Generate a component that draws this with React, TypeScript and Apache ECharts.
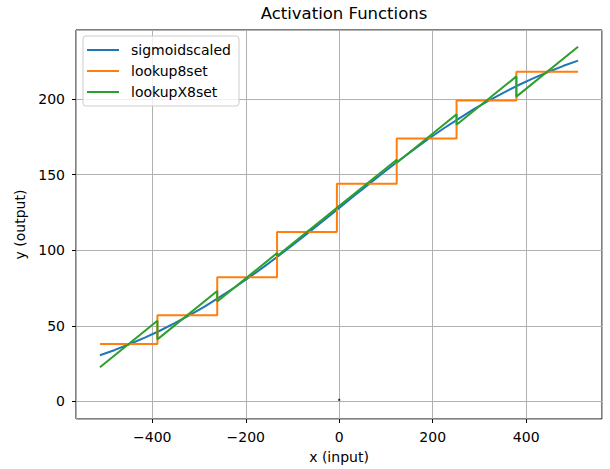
import React, { useEffect, useRef } from "react";
import * as echarts from "echarts";

const TITLE = "Activation Functions";
const X_LABEL = "x (input)";
const Y_LABEL = "y (output)";
const SERIES_NAMES = ["sigmoidscaled", "lookup8set", "lookupX8set"];
const COLORS = ["#1f77b4", "#ff7f0e", "#2ca02c"];

// sigmoidscaled: smooth curve, read at x steps
const sigX = [-512, -480, -448, -416, -384, -352, -320, -288, -256, -224, -192, -160, -128, -96, -64, -32, 0, 32, 64, 96, 128, 160, 192, 224, 256, 288, 320, 352, 384, 416, 448, 480, 511];
const sigY = [30.5, 34.0, 37.9, 42.1, 46.7, 51.7, 57.0, 62.7, 68.9, 75.3, 82.1, 89.3, 96.7, 104.3, 112.1, 120.0, 128, 136.0, 143.9, 151.7, 159.3, 166.7, 173.9, 180.7, 187.1, 193.3, 199.0, 204.3, 209.3, 213.9, 218.1, 222.0, 225.4];

// lookup8set: step boundaries and levels
const stepEdges = [-512, -389, -261, -133, -5, 123, 251, 379, 511];
const stepLevels = [37.9, 57.0, 82.1, 112.1, 143.9, 173.9, 199.0, 218.1];

// lookupX8set: per segment start / end values (same edges)
const segStart = [22.5, 41.0, 66.1, 96.1, 127.9, 157.9, 183.0, 201.6];
const segEnd = [53.3, 73.0, 98.1, 128.1, 159.9, 189.9, 215.0, 234.6];

// stray point
const dotX = [0];
const dotY = [1];

const X_MIN = -563.2;
const X_MAX = 562.2;
const Y_MIN = -11.7;
const Y_MAX = 245.7;

const FONT = "DejaVu Sans";

function fmt(v: number): string {
  const r = Math.round(v);
  return r < 0 ? "\u2212" + Math.abs(r) : String(r);
}

export default function App() {
  const ref = useRef<HTMLDivElement>(null);
  useEffect(() => {
    if (!ref.current) return;
    const chart = echarts.init(ref.current, null, { renderer: "svg" });

    const sigData = sigX.map((x, i) => [x, sigY[i]]);
    const stepData: number[][] = [];
    const sawData: number[][] = [];
    for (let i = 0; i < stepLevels.length; i++) {
      stepData.push([stepEdges[i], stepLevels[i]]);
      stepData.push([stepEdges[i + 1], stepLevels[i]]);
      sawData.push([stepEdges[i], segStart[i]]);
      sawData.push([stepEdges[i + 1], segEnd[i]]);
    }
    const dotData = dotX.map((x, i) => [x, dotY[i]]);

    const lineSeries = (name: string, data: number[][], color: string) => ({
      name,
      type: "line",
      data,
      symbol: "none",
      showSymbol: false,
      lineStyle: { color, width: 2 },
      itemStyle: { color },
      animation: false,
    });

    chart.setOption({
      animation: false,
      backgroundColor: "#ffffff",
      title: {
        text: TITLE,
        left: 339,
        textAlign: "center",
        top: 0,
        textStyle: { fontFamily: FONT, fontSize: 16.5, fontWeight: "normal", color: "#000" },
      },
      legend: {
        orient: "vertical",
        left: 83,
        top: 36,
        data: SERIES_NAMES,
        icon: "rect",
        itemWidth: 32,
        itemHeight: 2,
        itemGap: 5,
        padding: [6, 8, 6, 4],
        backgroundColor: "rgba(255,255,255,0.8)",
        borderColor: "#cccccc",
        borderWidth: 1,
        borderRadius: 3,
        textStyle: { fontFamily: FONT, fontSize: 14, color: "#000", padding: [0, 0, 0, 7], lineHeight: 16 },
      },
      grid: {
        left: 76,
        right: 8,
        top: 30,
        bottom: 47,
        show: true,
        borderColor: "#000",
        borderWidth: 1,
        backgroundColor: "transparent",
      },
      xAxis: {
        type: "value",
        min: X_MIN,
        max: X_MAX,
        splitNumber: 5,
        name: X_LABEL,
        nameLocation: "middle",
        nameGap: 31,
        nameTextStyle: { fontFamily: FONT, fontSize: 14, color: "#000" },
        axisLine: { show: false, onZero: false },
        axisTick: { show: true, length: 4, lineStyle: { color: "#000" } },
        axisLabel: {
          margin: 11,
          fontFamily: FONT,
          fontSize: 14,
          color: "#000",
          showMinLabel: false,
          showMaxLabel: false,
          formatter: (v: number) => (Math.abs(v % 200) < 1e-6 ? fmt(v) : ""),
        },
        splitLine: { show: true, lineStyle: { color: "#b0b0b0", width: 1 } },
      },
      yAxis: {
        type: "value",
        min: Y_MIN,
        max: Y_MAX,
        splitNumber: 5,
        name: Y_LABEL,
        nameLocation: "middle",
        nameGap: 49,
        nameTextStyle: { fontFamily: FONT, fontSize: 14, color: "#000" },
        axisLine: { show: false, onZero: false },
        axisTick: { show: true, length: 4, lineStyle: { color: "#000" } },
        axisLabel: {
          margin: 11,
          fontFamily: FONT,
          fontSize: 14,
          color: "#000",
          showMinLabel: false,
          showMaxLabel: false,
          formatter: (v: number) => (Math.abs(v % 50) < 1e-6 ? fmt(v) : ""),
        },
        splitLine: { show: true, lineStyle: { color: "#b0b0b0", width: 1 } },
      },
      series: [
        lineSeries(SERIES_NAMES[0], sigData, COLORS[0]),
        lineSeries(SERIES_NAMES[1], stepData, COLORS[1]),
        lineSeries(SERIES_NAMES[2], sawData, COLORS[2]),
        {
          name: "point",
          type: "scatter",
          data: dotData,
          symbol: "rect",
          symbolSize: 2,
          itemStyle: { color: "#000" },
          animation: false,
        },
      ],
    });
    return () => chart.dispose();
  }, []);
  return <div ref={ref} style={{ width: 610, height: 469, position: "absolute", left: 0, top: 0 }} />;
}
